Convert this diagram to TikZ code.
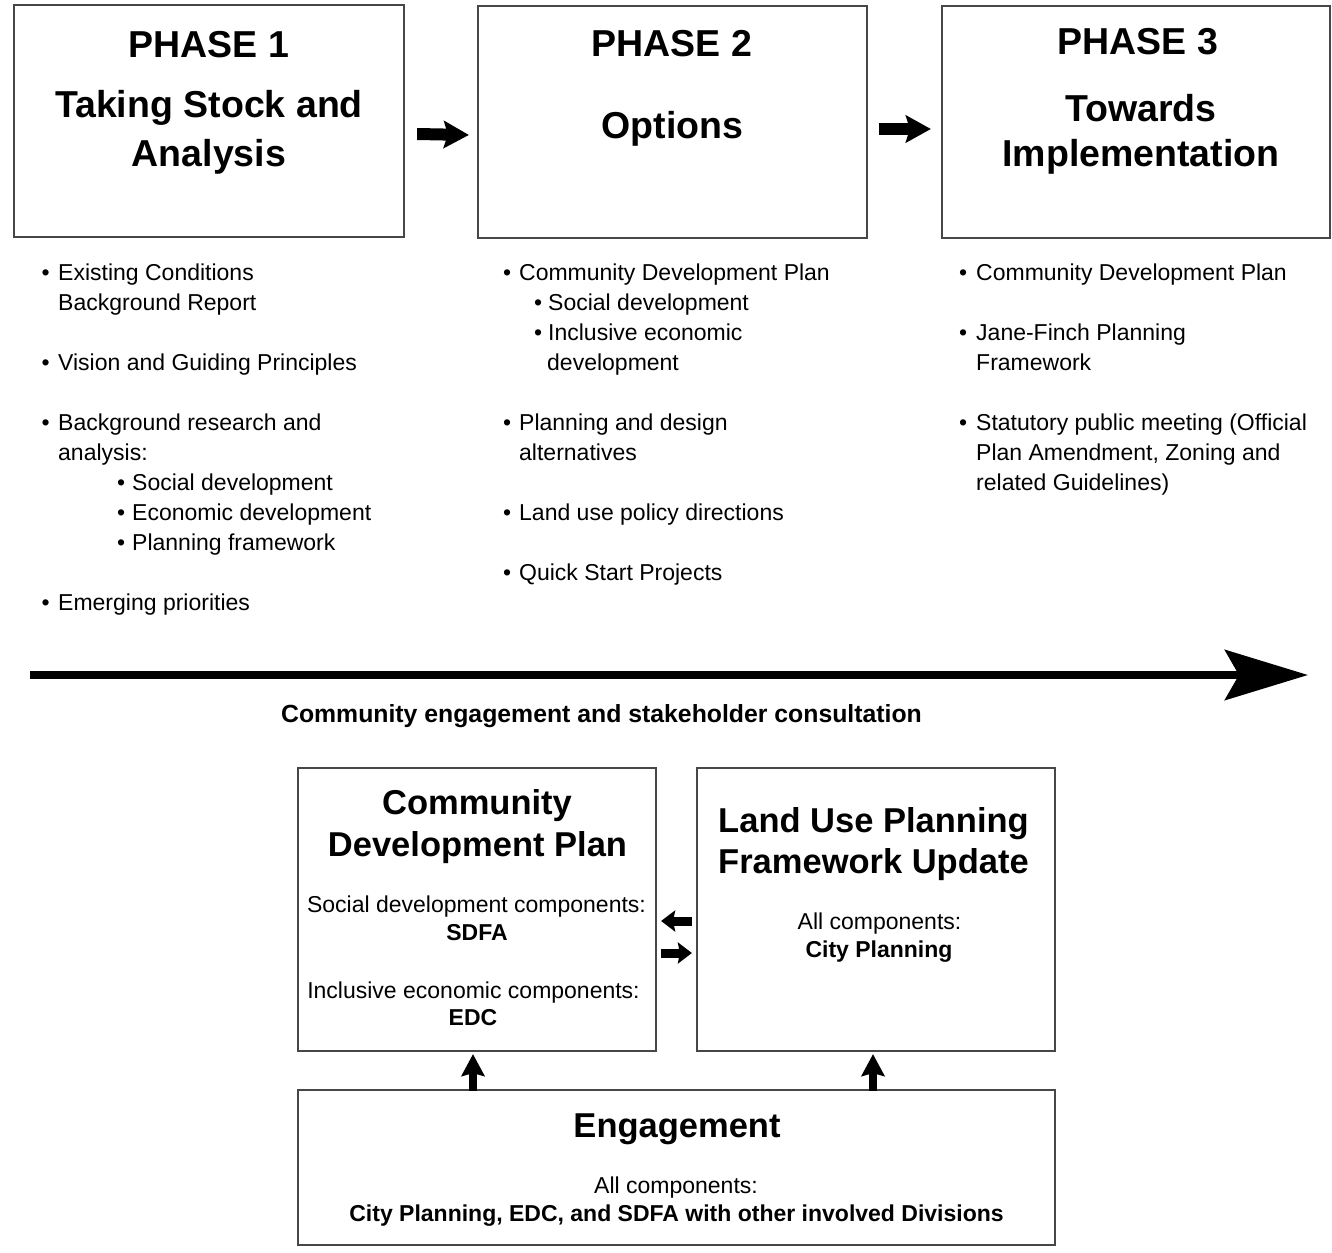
\documentclass[tikz,border=0pt]{standalone}
\usepackage{fontspec}
\setmainfont{Liberation Sans}
\usetikzlibrary{arrows.meta}
\newcommand\mybul[1]{\makebox[#1][l]{•}}
\begin{document}
\begin{tikzpicture}[x=1pt,y=-1pt,
  box/.style={draw=black!72, line width=2.2pt, rectangle, inner sep=0pt},
  ttl/.style={font=\fontsize{37.5}{49}\selectfont\bfseries, anchor=base, inner sep=0pt},
  sttl/.style={font=\fontsize{34.5}{42}\selectfont\bfseries, anchor=base, inner sep=0pt},
  txt/.style={font=\fontsize{23}{30}\selectfont, anchor=base, inner sep=0pt},
  btxt/.style={font=\fontsize{23}{30}\selectfont\bfseries, anchor=base, inner sep=0pt},
  blist/.style={font=\fontsize{23}{30}\selectfont, anchor=base west, align=left, inner sep=0pt},
  bigarr/.style={line width=12pt, -{Stealth[length=25pt,width=27pt,inset=4pt]}},
  smarr/.style={line width=9pt, -{Stealth[length=14pt,width=21pt,inset=2pt]}},
  uparr/.style={line width=8pt, -{Stealth[length=22pt,width=23pt,inset=3pt]}},
  timearr/.style={line width=8pt, -{Stealth[length=83pt,width=50pt,inset=14pt]}}
]
\useasboundingbox (0,0) rectangle (1332,1252);

% phase boxes
\node[box, minimum width=390pt, minimum height=232pt] (p1) at (209,121) {};
\node[box, minimum width=389pt, minimum height=232pt] (p2) at (672.5,122) {};
\node[box, minimum width=388pt, minimum height=232pt] (p3) at (1136,122) {};

\node[ttl] (p1a) at (209,58) {PHASE 1};
\node[ttl] (p1b) at (209,118) {Taking Stock and};
\node[ttl] (p1c) at (209,167) {Analysis};
\node[ttl] (p2a) at (672,57) {PHASE 2};
\node[ttl] (p2b) at (672.5,139) {Options};
\node[ttl] (p3a) at (1138,55) {PHASE 3};
\node[ttl] (p3b) at (1141,122) {Towards};
\node[ttl] (p3c) at (1141,167) {Implementation};

\draw[bigarr] ([xshift=12pt,yshift=-13pt]p1.east) -- ([xshift=-8pt,yshift=-13pt]p2.west);
\draw[bigarr] ([xshift=11pt,yshift=-7pt]p2.east) -- ([xshift=-10pt,yshift=-7pt]p3.west);

% bullet lists (anchored at the baseline of their last line)
\node[blist] (c1) at (41.5,610.5) {\mybul{16.5pt}Existing Conditions\\
\hspace*{16.5pt}Background Report\\[30pt]
\mybul{16.5pt}Vision and Guiding Principles\\[30pt]
\mybul{16.5pt}Background research and\\
\hspace*{16.5pt}analysis:\\
\hspace*{75.5pt}\mybul{15pt}Social development\\
\hspace*{75.5pt}\mybul{15pt}Economic development\\
\hspace*{75.5pt}\mybul{15pt}Planning framework\\[30pt]
\mybul{16.5pt}Emerging priorities};

\node[blist] (c2) at (503,580.5) {\mybul{16pt}Community Development Plan\\
\hspace*{31pt}\mybul{14pt}Social development\\
\hspace*{31pt}\mybul{14pt}Inclusive economic\\
\hspace*{44pt}development\\[30pt]
\mybul{16pt}Planning and design\\
\hspace*{16pt}alternatives\\[30pt]
\mybul{16pt}Land use policy directions\\[30pt]
\mybul{16pt}Quick Start Projects};

\node[blist] (c3) at (959,490) {\mybul{17pt}Community Development Plan\\[30pt]
\mybul{17pt}Jane-Finch Planning\\
\hspace*{17pt}Framework\\[30pt]
\mybul{17pt}Statutory public meeting (Official\\
\hspace*{17pt}Plan Amendment, Zoning and\\
\hspace*{17pt}related Guidelines)};

% timeline arrow
\coordinate (ts) at (30,675);
\coordinate (te) at (1308,675);
\draw[timearr] (ts) -- (te);
\node[font=\fontsize{24.8}{30}\selectfont\bfseries, anchor=base, inner sep=0pt] (tl) at (601.5,722) {Community engagement and stakeholder consultation};

% bottom boxes
\node[box, minimum width=358pt, minimum height=283pt] (cdp) at (477,909.5) {};
\node[box, minimum width=358pt, minimum height=283pt] (lup) at (876,909.5) {};
\node[box, minimum width=757pt, minimum height=155pt] (eng) at (676.5,1167.5) {};

\node[sttl] (cdpa) at (477,814) {Community};
\node[sttl] (cdpb) at (477.5,856) {Development Plan};
\node[txt] (cdpc) at (476.5,912) {Social development components:};
\node[btxt] (cdpd) at (477,940) {SDFA};
\node[txt] (cdpe) at (473.5,998) {Inclusive economic components:};
\node[btxt] (cdpf) at (473,1025) {EDC};

\node[sttl] (lupa) at (873.5,832) {Land Use Planning};
\node[sttl] (lupb) at (873.5,873) {Framework Update};
\node[txt] (lupc) at (879.5,929) {All components:};
\node[btxt] (lupd) at (879,957) {City Planning};

\node[sttl] (enga) at (677,1137) {Engagement};
\node[txt] (engb) at (676,1193) {All components:};
\node[btxt] (engc) at (676.5,1221) {City Planning, EDC, and SDFA with other involved Divisions};

% small arrows
\draw[smarr] ([xshift=-4pt,yshift=-11.5pt]lup.west) -- ([xshift=4pt,yshift=-11.5pt]cdp.east);
\draw[smarr] ([xshift=4pt,yshift=-43.5pt]cdp.east) -- ([xshift=-4pt,yshift=-43.5pt]lup.west);
\draw[uparr] ([yshift=-2pt]eng.north -| cdpf) -- ([yshift=-2pt]cdp.south -| cdpf);
\draw[uparr] ([xshift=196.5pt,yshift=-2pt]eng.north) -- ([xshift=-3pt,yshift=-2pt]lup.south);
\end{tikzpicture}
\end{document}
